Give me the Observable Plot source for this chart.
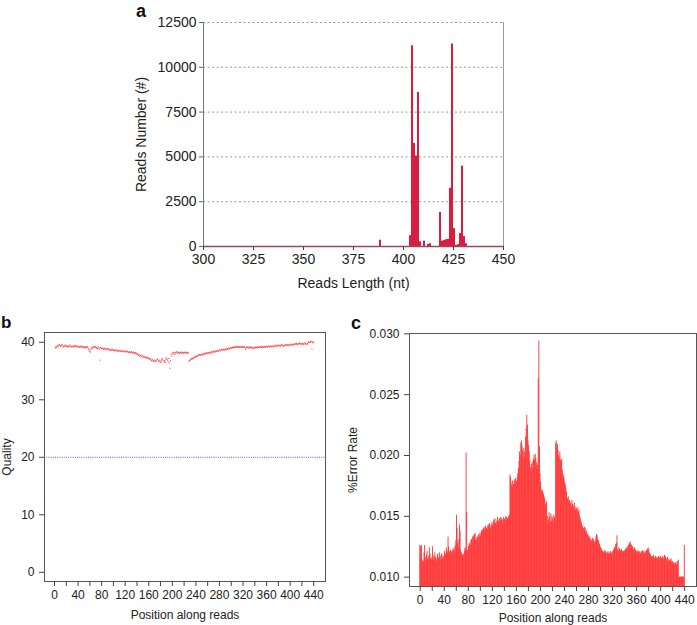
<!DOCTYPE html>
<html>
<head>
<meta charset="utf-8">
<script src="https://cdn.jsdelivr.net/npm/d3@7"></script>
<script src="https://cdn.jsdelivr.net/npm/@observablehq/plot@0.6"></script>
<style>
  html, body { margin: 0; padding: 0; background: #fff; }
  #fig { position: relative; width: 697px; height: 625px; overflow: hidden; font-family: "Liberation Sans", Arial, sans-serif; }
  .panel { position: absolute; }
  .lab { position: absolute; font-weight: bold; line-height: 1; color: #111; font-family: "Liberation Sans", Arial, sans-serif; }
</style>
</head>
<body>
<div id="fig">
  <div class="lab" style="left:136px;top:2px;font-size:18px;">a</div>
  <div class="lab" style="left:1px;top:314px;font-size:17px;">b</div>
  <div class="lab" style="left:351px;top:314px;font-size:18px;">c</div>
</div>
<script>
// ---------- Panel a: read length distribution ----------
const aLengths = [388, 403, 404, 405, 406, 407, 408, 410, 412, 413, 418, 419, 420, 421, 422, 423, 424, 425, 426, 427, 428, 429, 430, 431];
const aCounts  = [350, 600, 11200, 5750, 5050, 8600, 260, 300, 120, 150, 1900, 300, 330, 380, 400, 3250, 11300, 1000, 60, 100, 730, 4480, 550, 150];
const aXTicks = [300, 325, 350, 375, 400, 425, 450];
const aYTicks = [0, 2500, 5000, 7500, 10000, 12500];

// ---------- Panel b: quality per position (tenths), positions 1..440 ----------
const bQuality = [
390,392,391,393,394,395,393,396,395,394,393,395,396,394,392,393,394,395,393,394,
392,393,394,392,393,395,394,393,392,394,393,392,394,393,395,393,392,393,394,392,
393,392,391,393,392,394,393,391,392,393,391,390,392,391,393,392,390,388,384,386,
383,388,390,391,389,392,393,391,393,392,390,391,389,392,390,388,369,391,389,390,
389,390,388,389,390,388,389,387,388,389,388,387,388,386,387,388,386,387,388,386,
387,386,385,386,387,385,386,384,385,386,385,384,385,386,384,385,384,383,385,384,
384,383,385,384,383,382,384,383,382,384,383,382,381,383,382,381,382,380,381,379,
380,378,377,379,376,377,375,376,378,374,375,376,374,373,375,374,372,373,374,371,
372,370,371,369,368,370,367,368,369,366,368,367,369,370,371,368,366,369,367,365,
368,370,372,369,367,366,368,365,371,373,370,369,366,372,364,355,368,379,376,381,
380,382,383,379,381,382,383,384,381,382,383,381,382,383,382,381,383,382,381,382,
383,382,381,382,383,381,382,367,368,369,370,371,372,371,373,372,374,375,374,376,
375,377,376,378,377,378,379,377,378,380,379,378,380,381,379,380,381,382,381,380,
382,381,383,382,381,383,384,383,382,384,385,384,383,385,384,386,385,384,386,387,
386,385,387,388,387,386,388,387,386,388,389,387,388,389,390,388,389,390,391,389,
390,391,392,390,391,392,391,393,392,391,392,393,392,391,393,392,391,392,393,391,
392,393,391,388,390,391,392,391,390,392,391,390,391,392,390,391,389,390,391,390,
391,392,391,390,392,391,392,393,391,392,391,392,393,392,391,393,392,391,393,392,
393,392,394,393,392,393,394,393,392,394,393,392,394,393,394,395,393,394,395,394,
395,394,393,395,394,396,395,394,393,395,394,396,395,394,396,395,394,396,395,397,
396,395,397,396,395,397,396,398,397,396,398,397,396,398,397,399,398,397,396,398,
397,398,396,397,399,398,397,396,398,397,400,401,399,400,402,401,388,400,401,399
];
const bXTicks = d3.range(0, 441, 20);
const bYTicks = [0, 10, 20, 30, 40];
const bThreshold = [20];

// ---------- Panel c: error rate per position (x 1e-4), positions 0..440 ----------
const cError = [
126,125,118,126,114,112,113,120,126,116,113,118,121,115,114,117,124,119,115,114,
116,125,118,114,117,120,116,115,113,118,119,116,115,120,114,117,119,118,115,117,
116,121,118,119,124,122,120,133,125,121,120,122,119,121,120,123,122,124,121,126,
130,151,140,128,124,131,143,138,122,120,119,118,117,119,121,124,123,202,153,122,
122,125,127,128,126,130,131,129,133,134,132,135,136,131,130,133,132,134,135,133,
136,134,137,138,139,137,140,141,139,142,141,140,139,142,143,141,144,142,140,143,
145,142,144,147,146,148,144,143,146,149,147,145,148,147,149,146,148,145,147,149,
147,148,146,150,149,147,148,149,150,151,184,182,177,175,179,174,176,180,178,181,
176,179,182,185,189,195,203,200,210,212,208,204,198,206,203,199,215,222,233,225,
212,208,203,196,190,185,193,189,195,197,200,196,201,198,194,188,192,263,294,207,
185,178,172,170,171,169,168,166,164,160,158,162,150,144,147,153,149,145,152,146,
150,148,145,151,149,147,210,212,206,209,204,200,198,203,196,194,197,188,185,183,
181,178,176,173,170,165,164,166,162,163,160,161,158,163,160,159,157,161,158,155,
157,156,154,157,153,155,150,148,146,144,141,142,140,139,141,140,137,138,136,135,
133,134,132,133,130,131,129,132,130,131,128,129,130,133,135,134,131,130,128,127,
125,124,123,122,121,120,121,120,122,121,120,119,120,121,119,120,119,121,120,119,
120,121,122,123,124,125,127,128,134,122,121,124,123,122,121,123,122,121,120,121,
122,121,123,122,124,125,123,126,128,127,129,127,126,124,125,123,122,124,123,122,
121,120,121,122,120,121,120,119,121,120,121,122,120,121,119,120,121,122,121,123,
124,122,120,119,118,117,116,117,116,118,115,116,117,115,116,115,116,117,115,116,
117,116,115,116,117,115,116,118,117,116,115,114,116,115,113,114,113,114,115,112,
113,112,111,112,110,111,112,110,111,113,114,100,100,100,100,100,100,100,100,100,
126
];
const cYTicks = [0.010, 0.015, 0.020, 0.025, 0.030];

const fig = document.getElementById("fig");
const font = "Liberation Sans, Arial, Helvetica, sans-serif";

function place(svg, left, top) {
  const wrap = document.createElement("div");
  wrap.className = "panel";
  wrap.style.left = left + "px";
  wrap.style.top = top + "px";
  wrap.appendChild(svg);
  fig.appendChild(wrap);
}

// Panel a
const aData = aLengths.map((len, i) => ({len, count: aCounts[i]}));
const plotA = Plot.plot({
  width: 400, height: 300,
  marginLeft: 83, marginRight: 17, marginTop: 22, marginBottom: 54,
  style: {fontFamily: font, fontSize: "14px", color: "#222", background: "transparent", overflow: "visible"},
  x: {domain: [300, 450]},
  y: {domain: [0, 12500]},
  marks: [
    Plot.ruleY(aYTicks.slice(1), {stroke: "#9a9a9a", strokeDasharray: "2,2.5"}),
    Plot.ruleX([300], {stroke: "#777"}),
    Plot.ruleX([450], {stroke: "#999"}),
    Plot.rectY(aData, {x1: "len", x2: d => d.len + 1, y: "count", fill: "#d91c40"}),
    Plot.ruleY([0], {stroke: "#9c4a58", strokeWidth: 1.5}),
    Plot.axisY({ticks: aYTicks, tickSize: 4, tickPadding: 3, tickFormat: d => String(d), stroke: "#666",
      label: "Reads Number (#)", labelAnchor: "center", labelArrow: "none", labelOffset: 67}),
    Plot.axisX({ticks: aXTicks, tickSize: 4, tickPadding: 4, tickFormat: d => String(d), stroke: "#444",
      label: "Reads Length (nt)", labelAnchor: "center", labelArrow: "none", labelOffset: 41})
  ]
});
place(plotA, 120, 0);

// Panel b
const bData = bQuality.map((q, i) => ({pos: i + 1, q: q / 10}));
const plotB = Plot.plot({
  width: 340, height: 325,
  marginLeft: 44, marginRight: 15, marginTop: 32, marginBottom: 44,
  style: {fontFamily: font, fontSize: "12px", color: "#222", background: "transparent", overflow: "visible"},
  x: {domain: [-17, 460]},
  y: {domain: [-1.6, 41.7]},
  marks: [
    Plot.frame({stroke: "#555"}),
    Plot.ruleY(bThreshold, {stroke: "#5a5aff", strokeDasharray: "1,1.2"}),
    Plot.dot(bData, {x: "pos", y: "q", r: 0.6, fill: "#ff4040", stroke: null}),
    Plot.axisY({ticks: bYTicks, tickSize: 5, tickPadding: 5, stroke: "#444",
      label: "Quality", labelAnchor: "center", labelArrow: "none", labelOffset: 42}),
    Plot.axisX({ticks: bXTicks, tickSize: 5, tickPadding: 4, stroke: "#444",
      tickFormat: d => (d % 40 === 0 ? String(d) : ""),
      label: "Position along reads", labelAnchor: "center", labelArrow: "none", labelOffset: 37})
  ]
});
place(plotB, 0, 300);

// Panel c
const cData = cError.map((e, i) => ({pos: i, e: e / 10000}));
const plotC = Plot.plot({
  width: 357, height: 325,
  marginLeft: 69, marginRight: 1, marginTop: 33, marginBottom: 39,
  style: {fontFamily: font, fontSize: "12px", color: "#222", background: "transparent", overflow: "visible"},
  x: {domain: [-17.8, 459.6]},
  y: {domain: [0.00923, 0.03003]},
  marks: [
    Plot.rectY(cData, {x1: d => d.pos - 0.6, x2: d => d.pos + 0.9, y: "e", fill: "#ff3333", clip: true}),
    Plot.frame({stroke: "#555"}),
    Plot.axisY({ticks: cYTicks, tickSize: 5, tickPadding: 5, stroke: "#444", tickFormat: d3.format(".3f"),
      label: "%Error Rate", labelAnchor: "center", labelArrow: "none", labelOffset: 61}),
    Plot.axisX({ticks: bXTicks, tickSize: 5, tickPadding: 4, stroke: "#444",
      tickFormat: d => (d % 40 === 0 ? String(d) : ""),
      label: "Position along reads", labelAnchor: "center", labelArrow: "none", labelOffset: 35})
  ]
});
place(plotC, 340, 300);
</script>
</body>
</html>
